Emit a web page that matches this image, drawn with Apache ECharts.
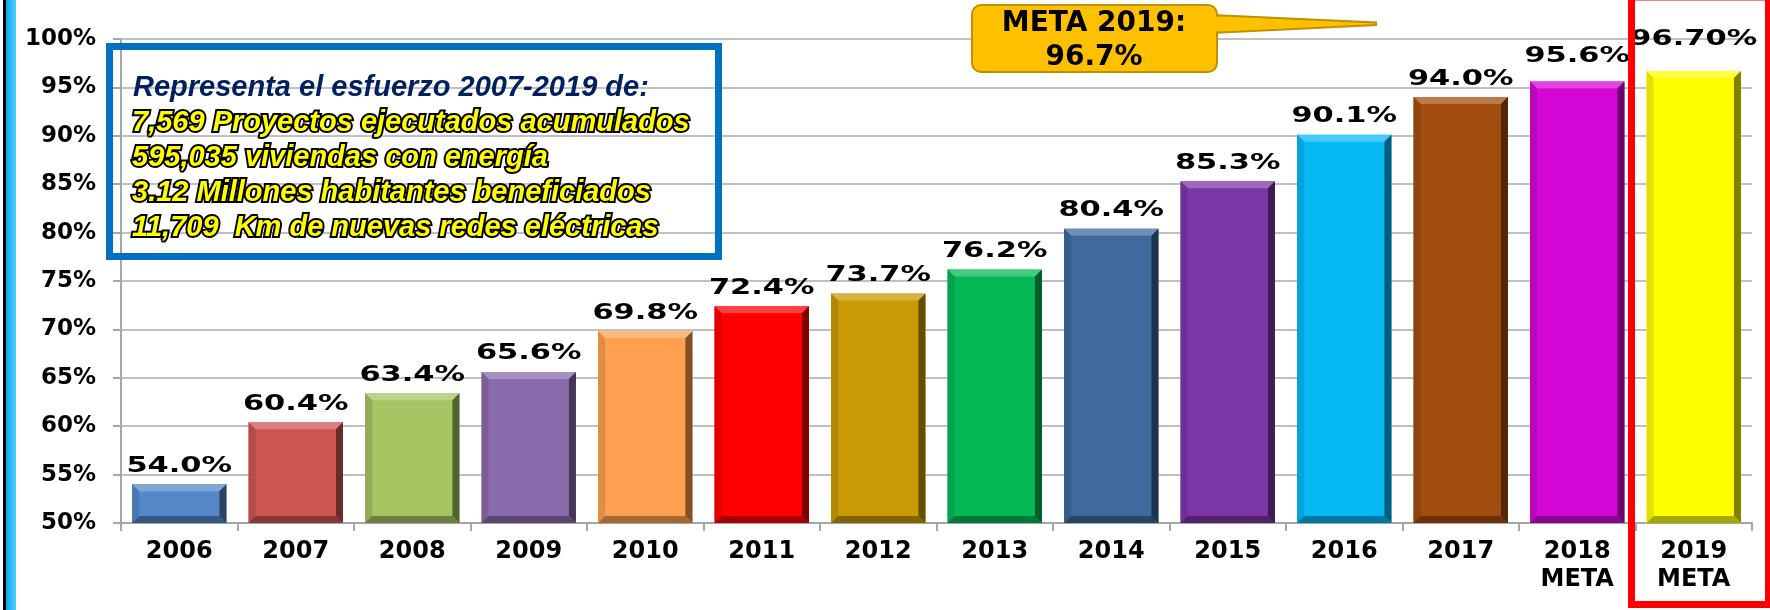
<!DOCTYPE html>
<html>
<head>
<meta charset="utf-8">
<script src="https://cdn.jsdelivr.net/npm/echarts@6/dist/echarts.min.js"></script>
<style>
  html, body { margin: 0; padding: 0; background: #fff; }
  #chart { width: 1770px; height: 610px; }
</style>
</head>
<body>
<div id="chart"></div>
<script>
const years = ['2006', '2007', '2008', '2009', '2010', '2011', '2012', '2013', '2014', '2015', '2016', '2017', '2018\nMETA', '2019\nMETA']
const coverage = [54.0, 60.4, 63.4, 65.6, 69.8, 72.4, 73.7, 76.2, 80.4, 85.3, 90.1, 94.0, 95.6, 96.7]
const barColors = ['#5588C8', '#CD5653', '#A5C462', '#8A6BAB', '#FF9F50', '#FF0000', '#C99A03', '#05B856', '#3E6A9C', '#7C36A8', '#05B9F5', '#A34D0E', '#D507D6', '#FFFF00']
const infoTitle = 'Representa el esfuerzo 2007-2019 de:'
const infoLines = [
  '7,569 Proyectos ejecutados acumulados',
  '595,035 viviendas con energía',
  '3.12 Millones habitantes beneficiados',
  '11,709  Km de nuevas redes eléctricas'
]
const goalLines = ['META 2019:', '96.7%']

const yMin = 50
const yMax = 100
const labelFont = '"DejaVu Sans", Verdana, sans-serif'

// mezcla un color hex con blanco (t>0) o negro (t<0)
const shade = (hex, t) => {
  const n = parseInt(hex.slice(1), 16)
  const ch = [n >> 16, (n >> 8) & 255, n & 255]
  const target = t > 0 ? 255 : 0
  const k = Math.abs(t)
  const out = ch.map(c => Math.round(c + (target - c) * k))
  return 'rgb(' + out.join(',') + ')'
}

const lastIdx = coverage.length - 1
const labelLift = i => (i === lastIdx ? 31 : i === lastIdx - 1 ? 25 : 18)

const renderBar = (params, api) => {
  const i = api.value(0)
  const v = api.value(1)
  const top = api.coord([i, v])
  const base = api.coord([i, yMin])
  const w = api.size([1, 0])[0] * 0.81
  const x0 = top[0] - w / 2
  const x1 = top[0] + w / 2
  const y0 = top[1]
  const y1 = base[1]
  const b = 7
  const c = barColors[i]
  const text = i === lastIdx ? v.toFixed(2) + '%' : v.toFixed(1) + '%'
  return {
    type: 'group',
    children: [
      { type: 'rect', shape: { x: x0, y: y0, width: w, height: y1 - y0 }, style: { fill: c } },
      { type: 'polygon', shape: { points: [[x0, y0], [x1, y0], [x1 - b, y0 + b], [x0 + b, y0 + b]] }, style: { fill: shade(c, 0.25) } },
      { type: 'polygon', shape: { points: [[x0, y0], [x0 + b, y0 + b], [x0 + b, y1 - b], [x0, y1]] }, style: { fill: shade(c, -0.12) } },
      { type: 'polygon', shape: { points: [[x1, y0], [x1, y1], [x1 - b, y1 - b], [x1 - b, y0 + b]] }, style: { fill: shade(c, -0.5) } },
      { type: 'polygon', shape: { points: [[x0, y1], [x0 + b, y1 - b], [x1 - b, y1 - b], [x1, y1]] }, style: { fill: shade(c, -0.35) } },
      {
        type: 'text',
        x: top[0],
        y: y0 - labelLift(i),
        scaleX: 1.45,
        style: {
          text: text,
          fill: '#000',
          fontFamily: labelFont,
          fontWeight: 'bold',
          fontSize: 21,
          align: 'center',
          verticalAlign: 'middle',
          shadowColor: 'rgba(0,0,0,0.35)',
          shadowBlur: 2,
          shadowOffsetX: 1,
          shadowOffsetY: 1
        }
      }
    ]
  }
}

const chart = echarts.init(document.getElementById('chart'))

const infoStyle = {
  fontFamily: '"Liberation Sans", Arial, sans-serif',
  fontStyle: 'italic',
  fontWeight: 'bold',
  fontSize: 29
}

const option = {
  animation: false,
  backgroundColor: '#fff',
  grid: { left: 121, right: 18, top: 39, bottom: 87 },
  xAxis: {
    type: 'category',
    data: years,
    axisLine: { show: true, lineStyle: { color: '#A6A6A6', width: 2 } },
    axisTick: { show: true, length: 8, lineStyle: { color: '#A6A6A6', width: 2 } },
    axisLabel: {
      color: '#000',
      fontFamily: labelFont,
      fontWeight: 'bold',
      fontSize: 24,
      lineHeight: 28,
      margin: 15
    }
  },
  yAxis: {
    type: 'value',
    min: yMin,
    max: yMax,
    interval: 5,
    axisLine: { show: true, lineStyle: { color: '#A6A6A6', width: 2 } },
    axisTick: { show: true, length: 8, lineStyle: { color: '#A6A6A6', width: 2 } },
    splitLine: { lineStyle: { color: '#C0C0C0', width: 2 } },
    axisLabel: {
      formatter: '{value}%',
      color: '#000',
      fontFamily: labelFont,
      fontWeight: 'bold',
      fontSize: 23,
      margin: 25
    }
  },
  series: [
    {
      type: 'custom',
      renderItem: renderBar,
      encode: { x: 0, y: 1 },
      data: coverage.map((v, i) => [i, v]),
      z: 3
    }
  ],
  graphic: [
    // franja azul del borde izquierdo
    { type: 'rect', z: 100, shape: { x: 3, y: 0, width: 3, height: 610 }, style: { fill: '#000' } },
    {
      type: 'rect', z: 100, shape: { x: 6, y: 0, width: 10, height: 610 },
      style: {
        fill: new echarts.graphic.LinearGradient(0, 0, 1, 0, [
          { offset: 0, color: '#0FA6EE' },
          { offset: 1, color: '#4FD2FF' }
        ])
      }
    },
    // recuadro de texto
    {
      type: 'rect', z: 100,
      shape: { x: 109.5, y: 46.5, width: 609, height: 210 },
      style: { fill: 'none', stroke: '#0070C0', lineWidth: 7 }
    },
    {
      type: 'text', z: 101, x: 133, y: 88,
      style: Object.assign({ text: infoTitle, fill: '#002060', verticalAlign: 'middle' }, infoStyle)
    },
    ...infoLines.map((t, k) => ({
      type: 'text', z: 101, x: 132, y: 122.5 + k * 35.2,
      style: Object.assign({
        text: t,
        fill: '#FFFF00',
        stroke: '#000',
        lineWidth: 4,
        shadowColor: '#000',
        shadowBlur: 8,
        verticalAlign: 'middle'
      }, infoStyle)
    })),
    // globo META 2019
    {
      type: 'polygon', z: 100,
      shape: { points: [[1212, 15], [1376, 22.5], [1376, 25], [1212, 33]] },
      style: { fill: '#FFC000', stroke: '#BF9000', lineWidth: 2 }
    },
    {
      type: 'rect', z: 101,
      shape: { x: 972, y: 5, width: 245, height: 67, r: 9 },
      style: { fill: '#FFC000', stroke: '#BF9000', lineWidth: 2 }
    },
    {
      type: 'polygon', z: 102,
      shape: { points: [[1210, 16.5], [1300, 20.6], [1300, 27.6], [1210, 31.5]] },
      style: { fill: '#FFC000' }
    },
    ...goalLines.map((t, k) => ({
      type: 'text', z: 103, x: 1094, y: 24 + k * 34,
      style: {
        text: t, fill: '#000', fontFamily: labelFont, fontWeight: 'bold', fontSize: 28,
        align: 'center', verticalAlign: 'middle'
      }
    })),
    // marco rojo de la meta 2019
    {
      type: 'rect', z: 100,
      shape: { x: 1631.5, y: -3, width: 137, height: 607.5 },
      style: { fill: 'none', stroke: '#FF0000', lineWidth: 7 }
    }
  ]
}

chart.setOption(option)
window.addEventListener('resize', () => chart.resize())
</script>
</body>
</html>
